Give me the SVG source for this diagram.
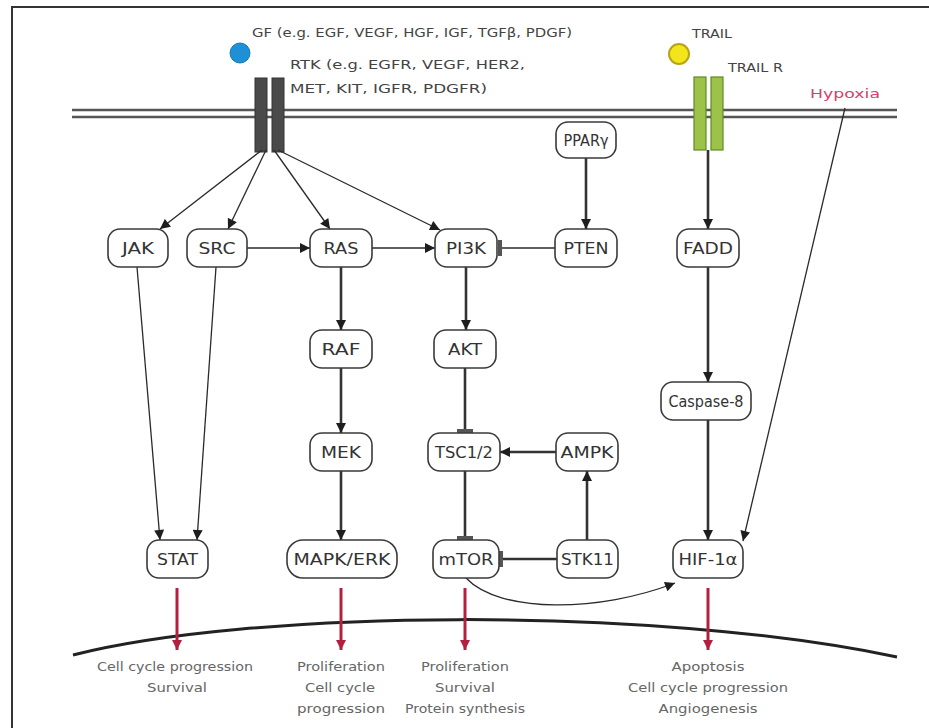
<svg xmlns="http://www.w3.org/2000/svg" width="929" height="728" viewBox="0 0 929 728">
<style>
  text { font-family: "DejaVu Sans", "Liberation Sans", sans-serif; fill: #333; }
  .node rect { fill: #fff; stroke: #3a3a3a; stroke-width: 1.6; }
  .node text { font-size: 15px; text-anchor: middle; }
  .thin { fill: none; stroke: #2a2a2a; stroke-width: 1.3; }
  .thick { fill: none; stroke: #333; stroke-width: 2.6; }
  .red { fill: none; stroke: #b3203f; stroke-width: 3; }
  .out { font-size: 12.5px; fill: #666; text-anchor: middle; }
  .lbl { font-size: 13px; fill: #444; }
</style>
<defs>
  <marker id="ah" viewBox="0 0 10 10" refX="10" refY="5" markerWidth="11" markerHeight="10" markerUnits="userSpaceOnUse" orient="auto"><path d="M0,0 L10,5 L0,10 z" fill="#1e1e1e"/></marker>
  <marker id="bar" viewBox="0 0 4 16" refX="2" refY="8" markerWidth="4" markerHeight="16" markerUnits="userSpaceOnUse" orient="auto"><rect x="0" y="0" width="4" height="16" fill="#555"/></marker>
  <marker id="rh" viewBox="0 0 10 10" refX="10" refY="5" markerWidth="10" markerHeight="10" markerUnits="userSpaceOnUse" orient="auto"><path d="M0,0 L10,5 L0,10 z" fill="#b3203f"/></marker>
</defs>

<!-- frame -->
<path d="M12,728 L12,7 L929,7" fill="none" stroke="#333" stroke-width="2"/>

<!-- membrane -->
<g id="membrane">
  <line x1="72" y1="110" x2="897" y2="110" stroke="#555" stroke-width="2.5"/>
  <line x1="72" y1="117" x2="897" y2="117" stroke="#555" stroke-width="2.5"/>
</g>

<!-- nucleus arc -->
<path id="nucleus" d="M73,655 C250,610 650,605 897,657" fill="none" stroke="#222" stroke-width="3"/>

<!-- receptors and ligands -->
<g id="rtk">
  <rect x="255" y="78" width="12" height="74" fill="#4a4a4a" stroke="#333" stroke-width="1"/>
  <rect x="272" y="78" width="12" height="74" fill="#4a4a4a" stroke="#333" stroke-width="1"/>
  <text class="lbl" x="290" y="69" textLength="235" lengthAdjust="spacingAndGlyphs">RTK (e.g. EGFR, VEGF, HER2,</text>
  <text class="lbl" x="290" y="93" textLength="197" lengthAdjust="spacingAndGlyphs">MET, KIT, IGFR, PDGFR)</text>
</g>
<g id="gf">
  <circle cx="240" cy="53" r="10" fill="#1f8fd6" stroke="#147ab8" stroke-width="1"/>
  <text class="lbl" x="252" y="37" textLength="320" lengthAdjust="spacingAndGlyphs">GF (e.g. EGF, VEGF, HGF, IGF, TGFβ, PDGF)</text>
</g>
<g id="trail">
  <circle cx="679" cy="54" r="10" fill="#f3e51c" stroke="#b8a415" stroke-width="2"/>
  <text class="lbl" x="692" y="38" textLength="40" lengthAdjust="spacingAndGlyphs">TRAIL</text>
</g>
<g id="trailr">
  <rect x="694" y="77" width="12" height="73" fill="#9cc24a" stroke="#5f8a25" stroke-width="1.2"/>
  <rect x="711" y="77" width="12" height="73" fill="#9cc24a" stroke="#5f8a25" stroke-width="1.2"/>
  <text class="lbl" x="728" y="72" textLength="55" lengthAdjust="spacingAndGlyphs">TRAIL R</text>
</g>
<g id="hypoxia">
  <text x="810" y="98" font-size="13" style="fill:#d4416a" textLength="70" lengthAdjust="spacingAndGlyphs">Hypoxia</text>
</g>

<!-- connectors -->
<g id="connectors">
  <path class="thin" d="M262,150 L160,229" marker-end="url(#ah)"/>
  <path class="thin" d="M266,150 L228,229" marker-end="url(#ah)"/>
  <path class="thin" d="M274,150 L330,229" marker-end="url(#ah)"/>
  <path class="thin" d="M278,150 L440,230" marker-end="url(#ah)"/>
  <path class="thin" d="M247,248 L310,248" marker-end="url(#ah)"/>
  <path class="thin" d="M372,248 L435,248" marker-end="url(#ah)"/>
  <path class="thin" d="M555,248 L500,248" marker-end="url(#bar)"/>
  <path class="thick" d="M586,158 L586,229" marker-end="url(#ah)"/>
  <path class="thick" d="M708,150 L708,229" marker-end="url(#ah)"/>
  <path class="thick" d="M708,267 L708,382" marker-end="url(#ah)"/>
  <path class="thick" d="M708,420 L708,540" marker-end="url(#ah)"/>
  <path class="thin" d="M845,108 L743,541" marker-end="url(#ah)"/>
  <path class="thin" d="M137,267 L160,540" marker-end="url(#ah)"/>
  <path class="thin" d="M216,267 L197,540" marker-end="url(#ah)"/>
  <path class="thick" d="M341,267 L341,330" marker-end="url(#ah)"/>
  <path class="thick" d="M341,368 L341,433" marker-end="url(#ah)"/>
  <path class="thick" d="M341,471 L341,540" marker-end="url(#ah)"/>
  <path class="thick" d="M466,267 L466,330" marker-end="url(#ah)"/>
  <path class="thick" d="M465,368 L465,431" marker-end="url(#bar)"/>
  <path class="thick" d="M465,471 L465,538" marker-end="url(#bar)"/>
  <path class="thick" d="M556,452 L500,452" marker-end="url(#ah)"/>
  <path class="thick" d="M587,540 L587,471" marker-end="url(#ah)"/>
  <path class="thick" d="M557,559 L501,559" marker-end="url(#bar)"/>
  <path class="thin" d="M466,578 C500,614 600,612 675,583" marker-end="url(#ah)"/>
  <path class="red" d="M177,588 L177,650" marker-end="url(#rh)"/>
  <path class="red" d="M341,588 L341,650" marker-end="url(#rh)"/>
  <path class="red" d="M465,588 L465,650" marker-end="url(#rh)"/>
  <path class="red" d="M708,588 L708,650" marker-end="url(#rh)"/>
</g>

<!-- nodes -->
<g id="jak" class="node"><rect x="108" y="229" width="60" height="38" rx="12"/><text x="138" y="254" textLength="32" lengthAdjust="spacingAndGlyphs">JAK</text></g>
<g id="src" class="node"><rect x="187" y="229" width="60" height="38" rx="12"/><text x="217" y="254" textLength="37" lengthAdjust="spacingAndGlyphs">SRC</text></g>
<g id="ras" class="node"><rect x="310" y="229" width="62" height="38" rx="12"/><text x="341" y="254" textLength="35" lengthAdjust="spacingAndGlyphs">RAS</text></g>
<g id="pi3k" class="node"><rect x="435" y="229" width="62" height="38" rx="12"/><text x="466" y="254" textLength="40" lengthAdjust="spacingAndGlyphs">PI3K</text></g>
<g id="pten" class="node"><rect x="555" y="229" width="62" height="38" rx="12"/><text x="586" y="254" textLength="45" lengthAdjust="spacingAndGlyphs">PTEN</text></g>
<g id="fadd" class="node"><rect x="677" y="229" width="62" height="38" rx="12"/><text x="708" y="254" textLength="50" lengthAdjust="spacingAndGlyphs">FADD</text></g>
<g id="ppar" class="node"><rect x="556" y="122" width="60" height="36" rx="12"/><text x="586" y="146" textLength="45" lengthAdjust="spacingAndGlyphs">PPARγ</text></g>
<g id="raf" class="node"><rect x="310" y="330" width="62" height="38" rx="12"/><text x="341" y="355" textLength="39" lengthAdjust="spacingAndGlyphs">RAF</text></g>
<g id="akt" class="node"><rect x="434" y="330" width="62" height="38" rx="12"/><text x="465" y="355" textLength="34" lengthAdjust="spacingAndGlyphs">AKT</text></g>
<g id="casp8" class="node"><rect x="661" y="382" width="90" height="38" rx="12"/><text x="706" y="407" textLength="75" lengthAdjust="spacingAndGlyphs">Caspase-8</text></g>
<g id="mek" class="node"><rect x="310" y="433" width="62" height="38" rx="12"/><text x="341" y="458" textLength="40" lengthAdjust="spacingAndGlyphs">MEK</text></g>
<g id="tsc" class="node"><rect x="428" y="433" width="72" height="38" rx="12"/><text x="464" y="458" textLength="58" lengthAdjust="spacingAndGlyphs">TSC1/2</text></g>
<g id="ampk" class="node"><rect x="556" y="433" width="62" height="38" rx="12"/><text x="587" y="458" textLength="53" lengthAdjust="spacingAndGlyphs">AMPK</text></g>
<g id="stat" class="node"><rect x="147" y="540" width="61" height="38" rx="12"/><text x="177.5" y="565" textLength="41" lengthAdjust="spacingAndGlyphs">STAT</text></g>
<g id="mapk" class="node"><rect x="287" y="540" width="110" height="38" rx="16"/><text x="342" y="565" textLength="97" lengthAdjust="spacingAndGlyphs">MAPK/ERK</text></g>
<g id="mtor" class="node"><rect x="433" y="540" width="66" height="38" rx="12"/><text x="466" y="565" textLength="55" lengthAdjust="spacingAndGlyphs">mTOR</text></g>
<g id="stk11" class="node"><rect x="557" y="540" width="61" height="38" rx="12"/><text x="587.5" y="565" textLength="53" lengthAdjust="spacingAndGlyphs">STK11</text></g>
<g id="hif" class="node"><rect x="673" y="540" width="70" height="38" rx="12"/><text x="708" y="565" textLength="59" lengthAdjust="spacingAndGlyphs">HIF-1α</text></g>

<!-- outcomes -->
<g id="outcomes">
  <text class="out" x="175" y="671" textLength="156" lengthAdjust="spacingAndGlyphs">Cell cycle progression</text>
  <text class="out" x="177" y="692" textLength="60" lengthAdjust="spacingAndGlyphs">Survival</text>
  <text class="out" x="341" y="671" textLength="88" lengthAdjust="spacingAndGlyphs">Proliferation</text>
  <text class="out" x="340" y="692" textLength="70" lengthAdjust="spacingAndGlyphs">Cell cycle</text>
  <text class="out" x="341" y="713" textLength="88" lengthAdjust="spacingAndGlyphs">progression</text>
  <text class="out" x="465" y="671" textLength="88" lengthAdjust="spacingAndGlyphs">Proliferation</text>
  <text class="out" x="465" y="692" textLength="60" lengthAdjust="spacingAndGlyphs">Survival</text>
  <text class="out" x="465" y="713" textLength="120" lengthAdjust="spacingAndGlyphs">Protein synthesis</text>
  <text class="out" x="708" y="671" textLength="73" lengthAdjust="spacingAndGlyphs">Apoptosis</text>
  <text class="out" x="708" y="692" textLength="160" lengthAdjust="spacingAndGlyphs">Cell cycle progression</text>
  <text class="out" x="708" y="713" textLength="99" lengthAdjust="spacingAndGlyphs">Angiogenesis</text>
</g>
</svg>
